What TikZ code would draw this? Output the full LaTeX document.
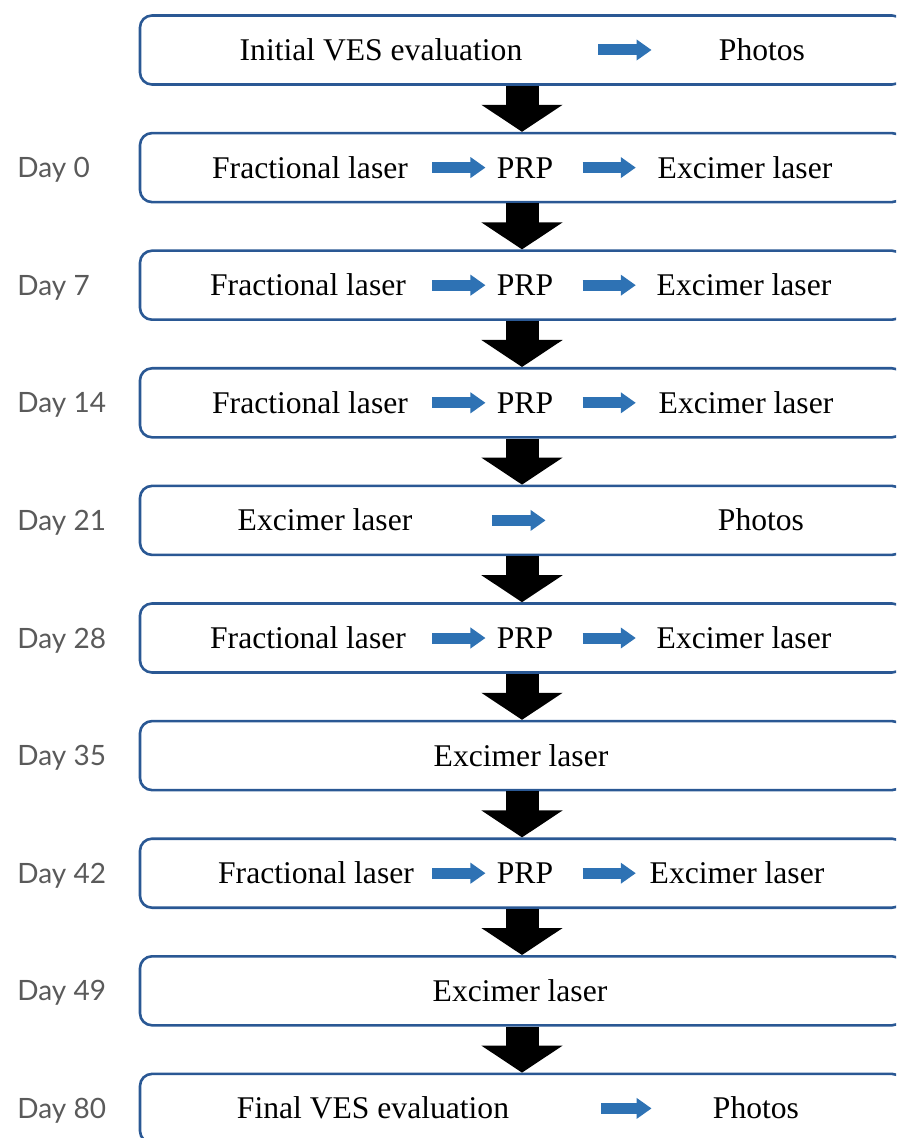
\documentclass[tikz,border=0pt]{standalone}
\usepackage{fontspec}
\setmainfont{Liberation Serif}
\newfontfamily\dayfont{Lato}
\usetikzlibrary{arrows.meta, positioning}
\definecolor{boxblue}{HTML}{2A5894}
\definecolor{flowblue}{HTML}{2E72B4}
\definecolor{daygray}{HTML}{5A5A5A}
\tikzstyle{stage} = [draw=boxblue, line width=1.3pt, rounded corners=6pt, minimum width=382pt, minimum height=34.5pt, inner sep=0pt]
\tikzstyle{itemtxt} = [inner sep=0pt, font=\fontsize{15.8}{19}\selectfont, text height=10.5pt, text depth=0pt]
\tikzstyle{daytxt} = [inner sep=0pt, anchor=west, text=daygray, font=\dayfont\fontsize{14}{17}\selectfont, text height=10pt, text depth=0pt]
\tikzstyle{down} = [line width=16.5pt, -{Triangle[width=40pt, length=13.5pt]}]
\tikzstyle{flow} = [flowblue, line width=5.5pt, -{Triangle[width=10pt, length=7.5pt]}]

\begin{document}
\begin{tikzpicture}[x=0.5pt, y=-0.5pt]
\clip (0,0) rectangle (896,1138);

\foreach \i in {0,...,9}
    \node[stage] (b\i) at (522,{50+117.6*\i}) {};

\foreach \i/\d in {1/0, 2/7, 3/14, 4/21, 5/28, 6/35, 7/42, 8/49, 9/80}
    \node[daytxt] (d\i) at (17,{50+117.6*\i}) {Day \d};

\foreach \i in {0,...,8} {
    \pgfmathtruncatemacro\j{\i+1}
    \draw[down] (b\i.south) -- (b\j.north);
}

\node[itemtxt] (i0) at (381,50) {Initial VES evaluation};
\node[itemtxt] (ph0) at (762,50) {Photos};
\draw[flow, shorten <=37.75pt, shorten >=33.5pt] (i0) -- (ph0);

\foreach \i/\fx/\ex in {1/310/745, 2/308/744, 3/310/746, 5/308/744, 7/316/737} {
    \node[itemtxt] (f\i) at (\fx,{50+117.6*\i}) {Fractional laser};
    \node[itemtxt] (p\i) at (525,{50+117.6*\i}) {PRP};
    \node[itemtxt] (e\i) at (\ex,{50+117.6*\i}) {Excimer laser};
    \draw[flow, shorten <={(334-\fx)*0.5pt}, shorten >=5.5pt] (f\i) -- (p\i);
    \draw[flow, shorten <=14.5pt, shorten >={(\ex-723.5)*0.5pt}] (p\i) -- (e\i);
}

\node[itemtxt] (e4) at (325,520.4) {Excimer laser};
\node[itemtxt] (ph4) at (761,520.4) {Photos};
\draw[flow, shorten <=39.75pt, shorten >=86pt] (e4) -- (ph4);

\node[itemtxt] (e6) at (521,755.6) {Excimer laser};
\node[itemtxt] (e8) at (520,990.8) {Excimer laser};

\node[itemtxt] (i9) at (373,1108.4) {Final VES evaluation};
\node[itemtxt] (ph9) at (756,1108.4) {Photos};
\draw[flow, shorten <=46pt, shorten >=30.5pt] (i9) -- (ph9);
\end{tikzpicture}
\end{document}
